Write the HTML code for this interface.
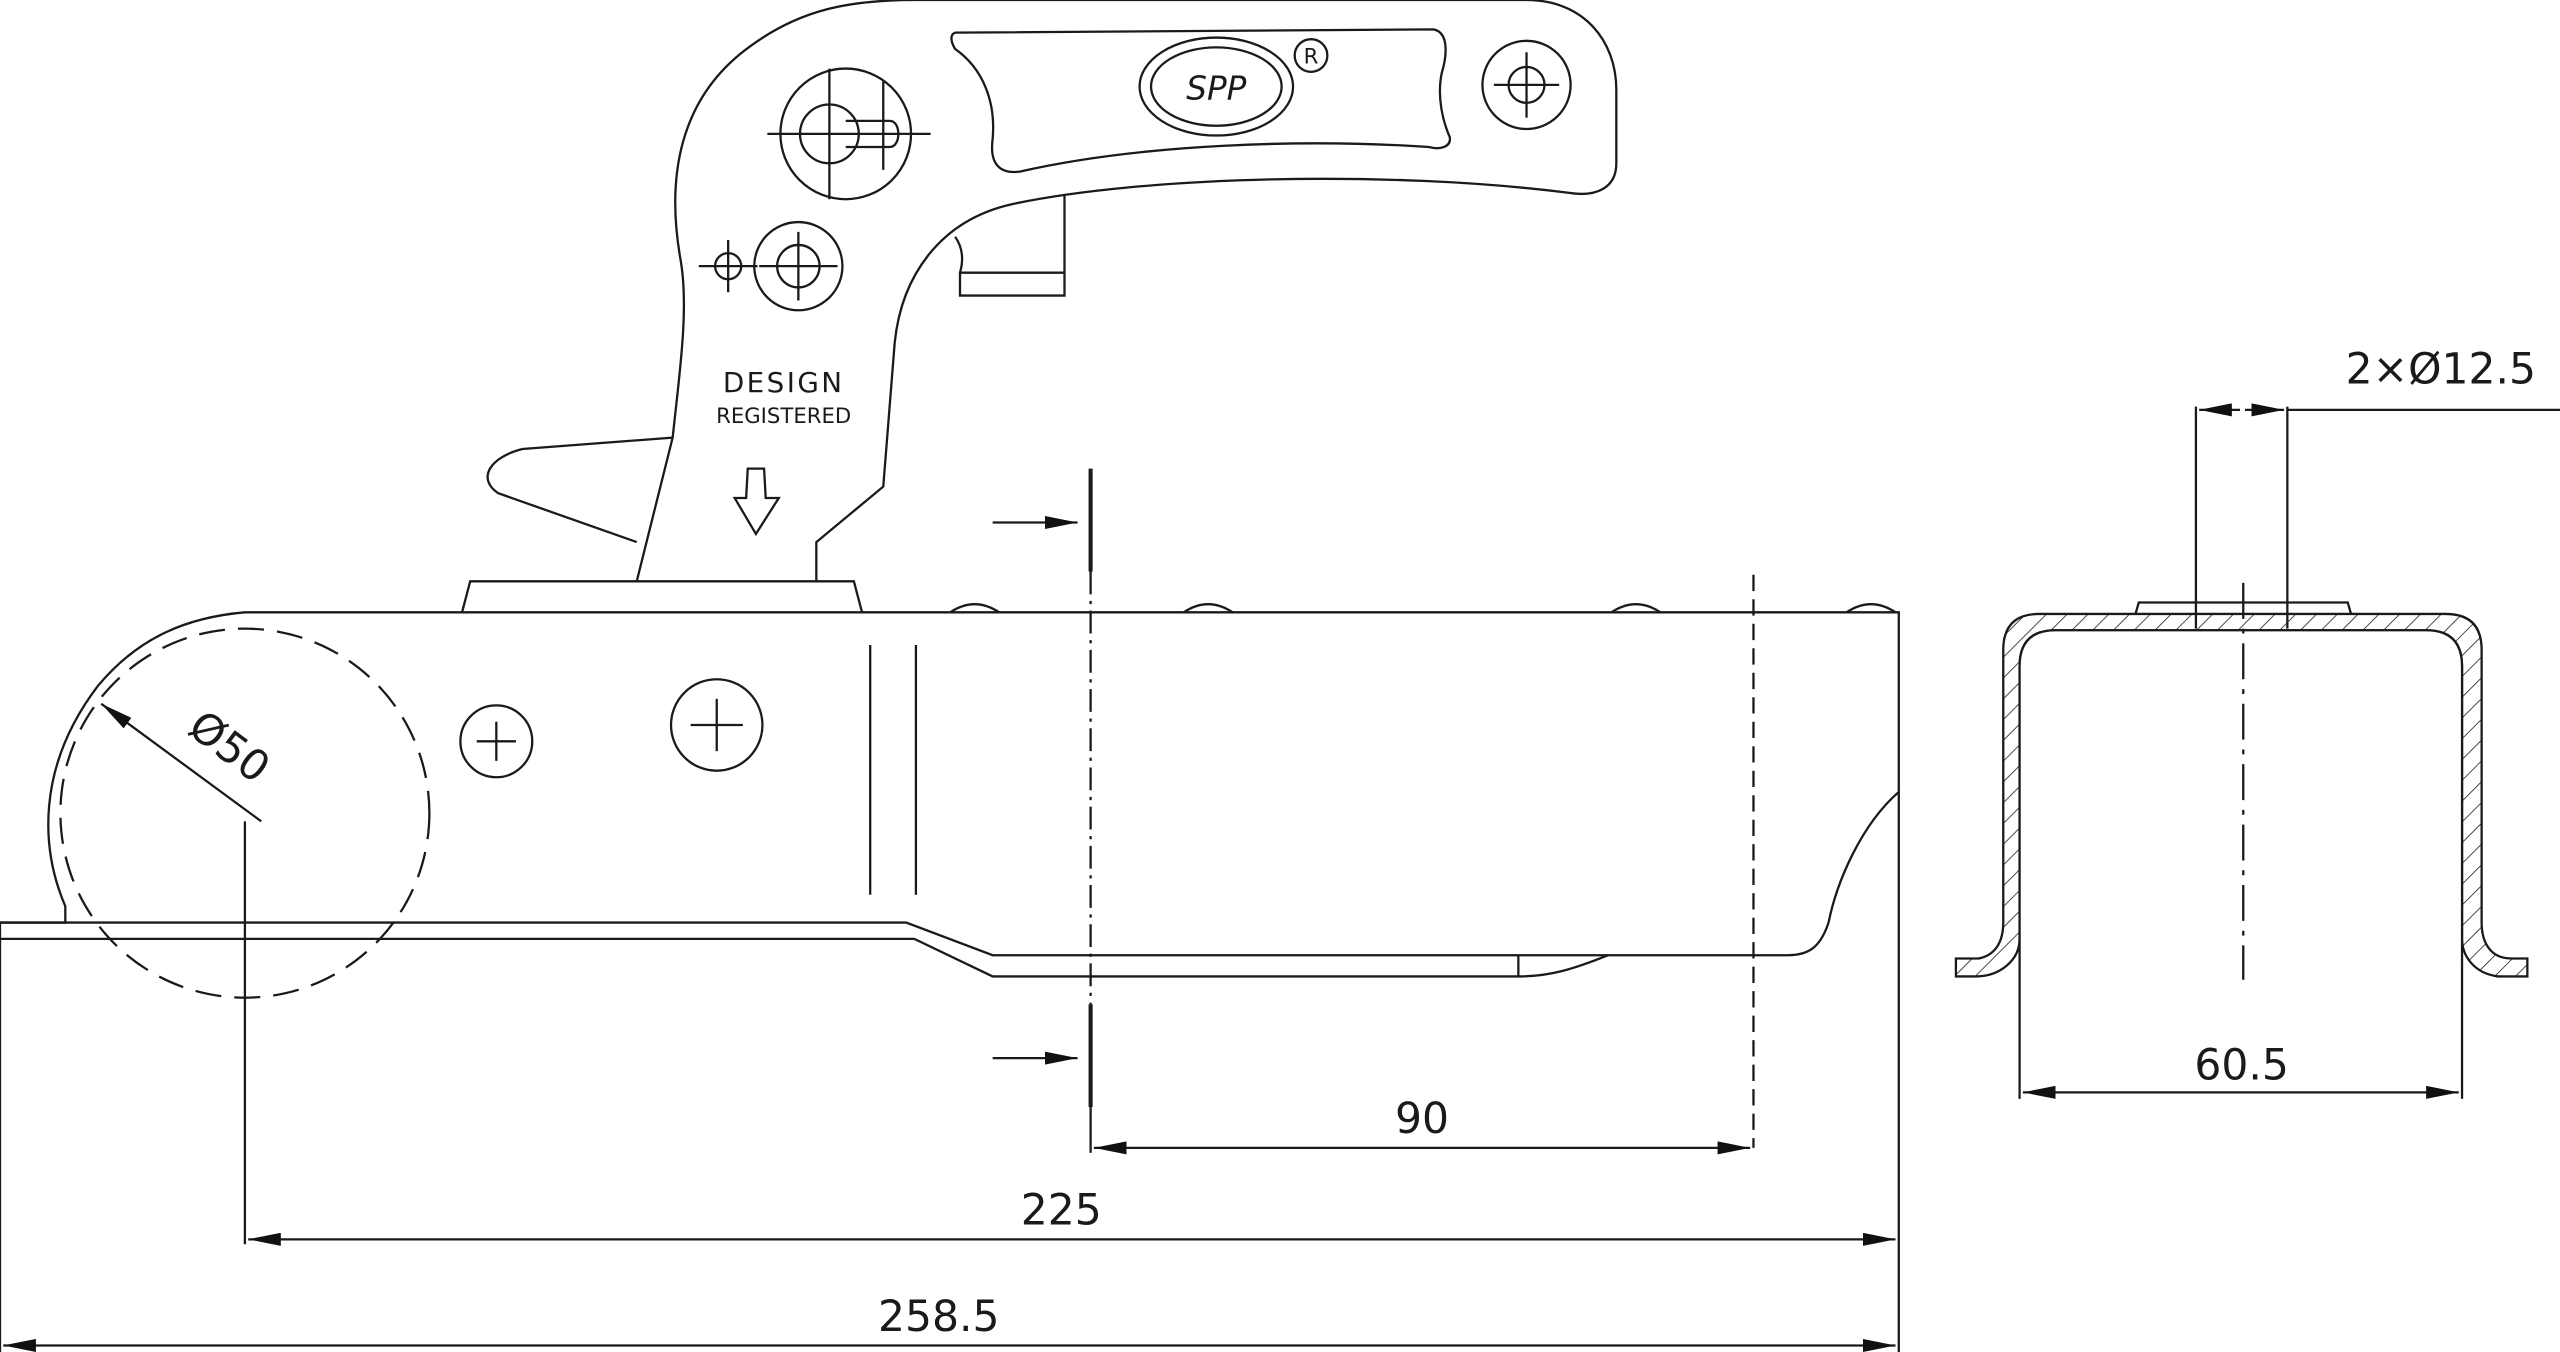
<!DOCTYPE html>
<html><head><meta charset="utf-8"><style>html,body{margin:0;padding:0;background:#fff}svg{display:block}</style></head>
<body>
<svg width="2560" height="1352" viewBox="0 0 1568 828" preserveAspectRatio="none" xmlns="http://www.w3.org/2000/svg">
<defs>
<pattern id="h" width="9" height="9" patternUnits="userSpaceOnUse" patternTransform="rotate(45)">
<line x1="0" y1="0" x2="0" y2="9" stroke="#222" stroke-width="1"/></pattern>
<marker id="a" viewBox="0 0 10 4" refX="10" refY="2" markerWidth="20" markerHeight="8" markerUnits="userSpaceOnUse" orient="auto-start-reverse"><path d="M0,0L10,2L0,4Z" fill="#111"/></marker>
</defs>
<g fill="none" stroke="#1a1a1a" stroke-width="1.4">
<path d="M40,555 C25,520 22,470 60,420 C85,390 115,378 150,375 L1163,375 L1163,485 C1140,505 1125,540 1120,565 C1115,580 1108,585 1095,585 L985,585 C965,593 950,598 930,598 L608,598 L560,575 L0,575 L0,565 L40,565 C40,560 40,557 40,555Z"/>
<path d="M0,565 L555,565 L608,585 L985,585"/>
<line x1="930" y1="585" x2="930" y2="598"/>
<path d="M582,375 Q597,365 612,375 M725,375 Q740,365 755,375 M987,375 Q1002,365 1017,375 M1131,375 Q1146,365 1161,375"/>
<line x1="533" y1="395" x2="533" y2="548"/><line x1="561" y1="395" x2="561" y2="548"/>
<circle cx="304" cy="454" r="22"/><path d="M292,454h24M304,442v24"/>
<circle cx="439" cy="444" r="28"/><path d="M423,444h32M439,428v32"/>
<path d="M283,375 L288,356 L523,356 L528,375"/>
<path d="M390,356 L412,268 C416,230 422,190 417,160 C408,110 415,60 460,28 C490,6 520,0 560,0 L935,0 C970,0 990,25 990,55 L990,100 C990,115 978,121 960,118 C850,104 700,108 620,125 C575,135 552,170 548,210 L541,298 L500,332 L500,356"/>
<path d="M412,268 L320,275 C300,280 292,293 305,302 L390,332"/>
<path d="M585,20 L878,18 C888,20 886,35 883,45 C880,60 884,75 888,84 C889,90 882,92 875,90 C800,85 700,88 625,105 C612,107 606,100 608,85 C610,62 602,42 585,30 C582,25 582,21 585,20Z"/>
<ellipse cx="745" cy="53" rx="47" ry="30"/><ellipse cx="745" cy="53" rx="40" ry="24"/>
<circle cx="803" cy="34" r="10"/>
<circle cx="935" cy="52" r="27"/><circle cx="935" cy="52" r="11"/><path d="M915,52h40M935,32v40"/>
<circle cx="518" cy="82" r="40"/><circle cx="508" cy="82" r="18"/>
<path d="M518,74 L545,74 C552,74 552,90 545,90 L518,90"/>
<path d="M470,82h100M508,42v80M541,50v54M500,82h30"/>
<circle cx="489" cy="163" r="27"/><circle cx="489" cy="163" r="13"/><path d="M465,163h48M489,142v42"/>
<circle cx="446" cy="163" r="8"/><path d="M428,163h36M446,147v32"/>
<path d="M585,145 C590,152 590,160 588,167 L588,181 L652,181 L652,120 M588,167 L652,167"/>
<path d="M458,287 L468,287 L469,305 L477,305 L463,327 L450,305 L457,305Z"/>
<circle cx="150" cy="498" r="113" stroke-dasharray="16,8"/>
<line x1="62" y1="431" x2="160" y2="503" marker-start="url(#a)"/>
<line x1="668" y1="287" x2="668" y2="350" stroke-width="2.5"/>
<line x1="668" y1="615" x2="668" y2="678" stroke-width="2.5"/>
<line x1="668" y1="350" x2="668" y2="615" stroke-dasharray="14,4,2,4"/>
<line x1="608" y1="320" x2="660" y2="320" marker-end="url(#a)"/>
<line x1="608" y1="648" x2="660" y2="648" marker-end="url(#a)"/>
<line x1="1074" y1="352" x2="1074" y2="703" stroke-dasharray="10,5"/>
<line x1="668" y1="678" x2="668" y2="706"/>
<line x1="670" y1="703" x2="1072" y2="703" marker-start="url(#a)" marker-end="url(#a)"/>
<line x1="150" y1="503" x2="150" y2="762"/>
<line x1="1163" y1="485" x2="1163" y2="828"/>
<line x1="152" y1="759" x2="1161" y2="759" marker-start="url(#a)" marker-end="url(#a)"/>
<line x1="0" y1="575" x2="0" y2="828"/>
<line x1="2" y1="824" x2="1161" y2="824" marker-start="url(#a)" marker-end="url(#a)"/>
<path fill="url(#h)" d="M1198,598 L1198,587 L1212,587 C1222,585 1227,577 1227,565 L1227,398 Q1227,376 1249,376 L1498,376 Q1520,376 1520,398 L1520,565 C1520,578 1526,587 1538,587 L1548,587 L1548,598 L1530,598 C1515,596 1508,585 1508,575 L1508,408 Q1508,386 1486,386 L1259,386 Q1237,386 1237,408 L1237,575 C1237,588 1225,598 1210,598Z"/>
<path fill="#fff" d="M1237,590 L1237,408 Q1237,386 1259,386 L1486,386 Q1508,386 1508,408 L1508,590"/>
<path d="M1308,376 L1310,369 L1438,369 L1440,376"/>
<line x1="1374" y1="357" x2="1374" y2="600" stroke-dasharray="22,6,3,6"/>
<line x1="1345" y1="249" x2="1345" y2="385"/><line x1="1401" y1="249" x2="1401" y2="385"/>
<line x1="1347" y1="251" x2="1372" y2="251" marker-start="url(#a)"/>
<line x1="1375" y1="251" x2="1399" y2="251" marker-end="url(#a)"/>
<line x1="1401" y1="251" x2="1568" y2="251"/>
<line x1="1237" y1="590" x2="1237" y2="673"/><line x1="1508" y1="590" x2="1508" y2="673"/>
<line x1="1239" y1="669" x2="1506" y2="669" marker-start="url(#a)" marker-end="url(#a)"/>
</g>
<g font-family="'DejaVu Sans','Liberation Sans',sans-serif" fill="#1a1a1a" text-anchor="middle">
<text x="480" y="240" font-size="17" letter-spacing="1.5">DESIGN</text>
<text x="480" y="259" font-size="13">REGISTERED</text>
<text x="745" y="61" font-size="20" font-style="italic">SPP</text>
<text x="803" y="39" font-size="13">R</text>
<text x="140" y="466" font-size="26" transform="rotate(37 140 458)">Ø50</text>
<text x="871" y="694" font-size="26">90</text>
<text x="650" y="750" font-size="26">225</text>
<text x="575" y="815" font-size="26">258.5</text>
<text x="1373" y="661" font-size="26">60.5</text>
<text x="1495" y="235" font-size="26">2×Ø12.5</text>
</g>
</svg>
</body></html>
